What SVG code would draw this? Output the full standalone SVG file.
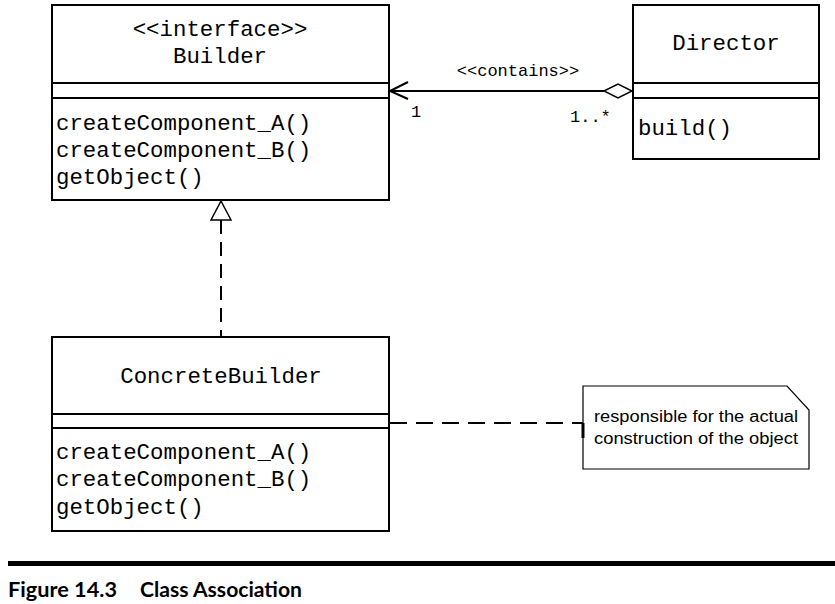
<svg xmlns="http://www.w3.org/2000/svg" width="835" height="604" viewBox="0 0 835 604">
<style>
.box{fill:#fff;stroke:#000;stroke-width:2}
.ln{stroke:#000;stroke-width:2;fill:none}
.mono{font-family:"Liberation Mono","Courier New",monospace;font-size:22.4px;fill:#000}
.small{font-family:"Liberation Mono","Courier New",monospace;font-size:17px;fill:#000}
.note{font-family:"Liberation Sans",Arial,sans-serif;font-size:16px;fill:#000}
.cap{font-family:Lato,"Liberation Sans",sans-serif;font-weight:bold;font-size:20px;fill:#000}
</style>
<rect width="835" height="604" fill="#fff"/>
<g id="connectors">
  <line class="ln" x1="221" y1="220" x2="221" y2="337" stroke-dasharray="14,8" stroke-width="1.5"/>
  <polygon points="221,201 211,220 231,220" fill="#fff" stroke="#000" stroke-width="1.5"/>
  <line class="ln" x1="390" y1="91" x2="604" y2="91" stroke-width="1.5"/>
  <polyline class="ln" points="408,82 390,91 408,99" stroke-width="1.5"/>
  <polygon points="604,91 618,84 632,91 618,98" fill="#fff" stroke="#000" stroke-width="1.5"/>
  <text class="small" x="518" y="76" text-anchor="middle">&lt;&lt;contains&gt;&gt;</text>
  <text class="small" x="411" y="117">1</text>
  <text class="small" x="570" y="122">1..*</text>
  <line class="ln" x1="390" y1="423" x2="583" y2="423" stroke-dasharray="17,9"/>
</g>
<g id="Builder">
  <rect class="box" x="52" y="5" width="337" height="195"/>
  <line class="ln" x1="52" y1="83" x2="389" y2="83"/>
  <line class="ln" x1="52" y1="98" x2="389" y2="98"/>
  <text class="mono" x="220" y="36" text-anchor="middle">&lt;&lt;interface&gt;&gt;</text>
  <text class="mono" x="220" y="63" text-anchor="middle">Builder</text>
  <text class="mono" x="56" y="130">createComponent_A()</text>
  <text class="mono" x="56" y="157">createComponent_B()</text>
  <text class="mono" x="56" y="184">getObject()</text>
</g>
<g id="Director">
  <rect class="box" x="633" y="5" width="186" height="154"/>
  <line class="ln" x1="633" y1="83" x2="819" y2="83"/>
  <line class="ln" x1="633" y1="98" x2="819" y2="98"/>
  <text class="mono" x="726" y="50" text-anchor="middle">Director</text>
  <text class="mono" x="638" y="135">build()</text>
</g>
<g id="ConcreteBuilder">
  <rect class="box" x="52" y="337" width="337" height="194"/>
  <line class="ln" x1="52" y1="414" x2="389" y2="414"/>
  <line class="ln" x1="52" y1="428" x2="389" y2="428"/>
  <text class="mono" x="221" y="383" text-anchor="middle">ConcreteBuilder</text>
  <text class="mono" x="56" y="459">createComponent_A()</text>
  <text class="mono" x="56" y="486">createComponent_B()</text>
  <text class="mono" x="56" y="514">getObject()</text>
</g>
<g id="note">
  <polygon points="583,386 787,386 809,410 809,469 583,469" fill="#fff" stroke="#000" stroke-width="1.2"/>
  <line x1="583" y1="423" x2="583" y2="438" stroke="#000" stroke-width="3"/>
  <text class="note" x="594" y="422" textLength="204" lengthAdjust="spacingAndGlyphs">responsible for the actual</text>
  <text class="note" x="594" y="444" textLength="204" lengthAdjust="spacingAndGlyphs">construction of the object</text>
</g>
<g id="caption">
  <rect x="8" y="561" width="827" height="5" fill="#000"/>
  <text class="cap" x="8" y="597" textLength="109" lengthAdjust="spacingAndGlyphs">Figure 14.3</text>
  <text class="cap" x="140" y="597" textLength="162" lengthAdjust="spacingAndGlyphs">Class Association</text>
</g>
</svg>
